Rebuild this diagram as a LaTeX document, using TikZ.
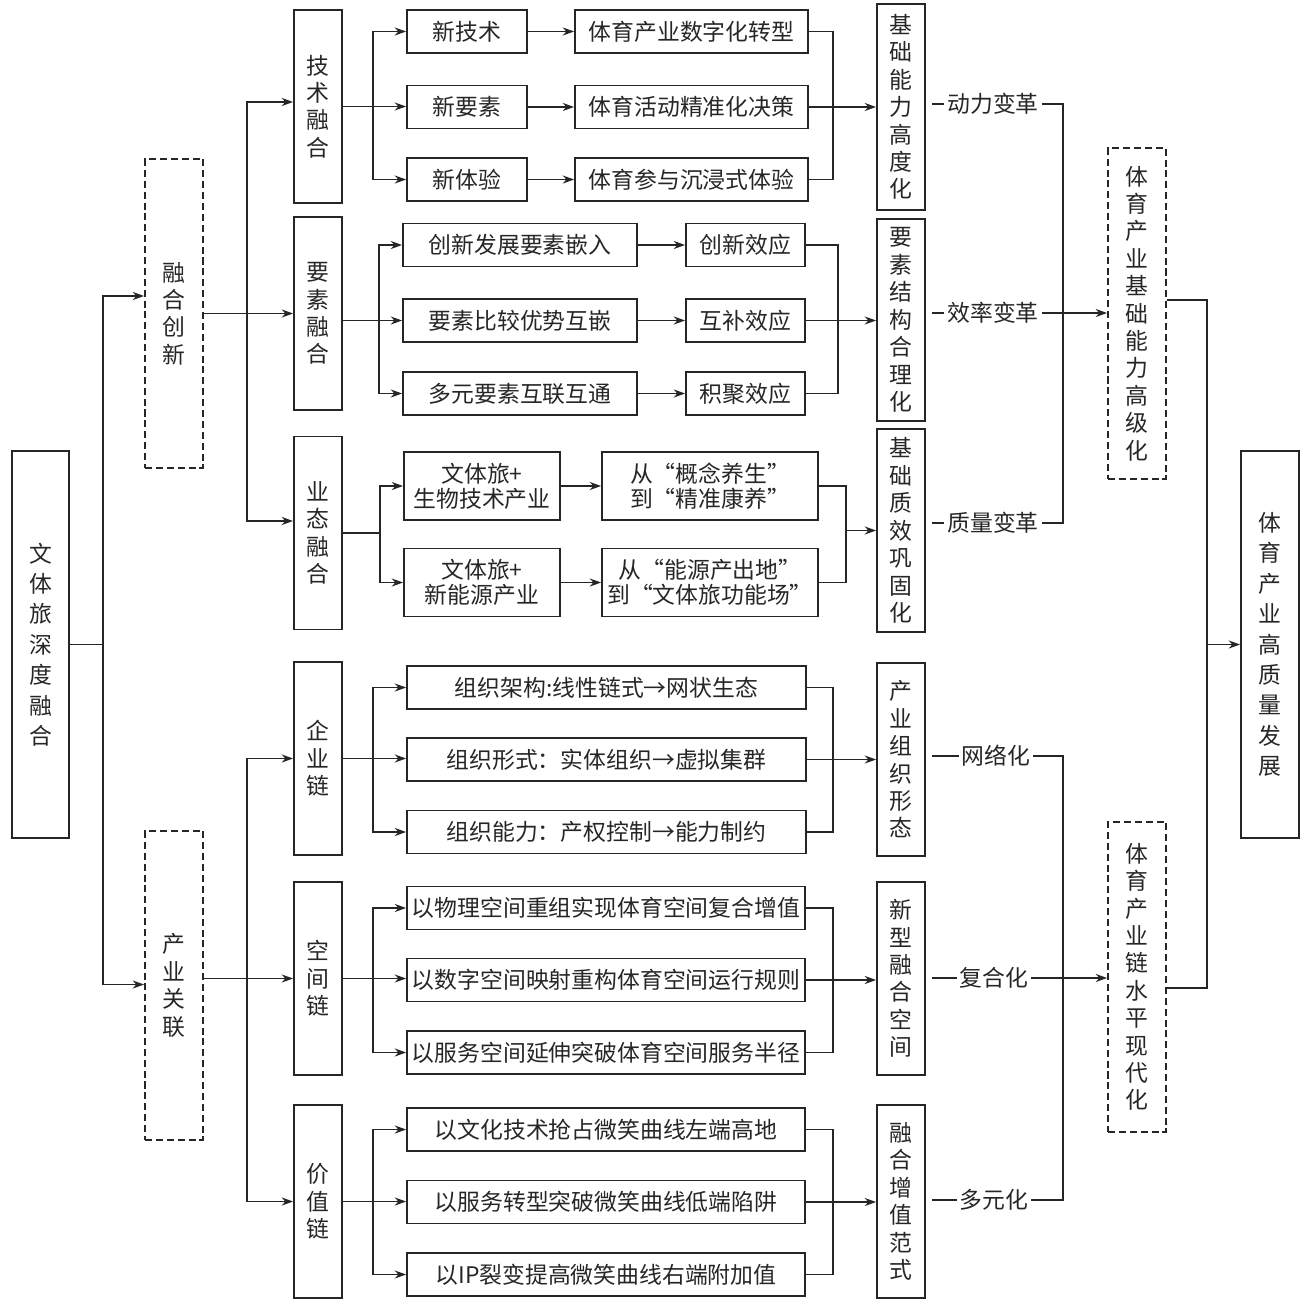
\documentclass[tikz,border=0pt]{standalone}
\usepackage{fontspec}
\setmainfont{Noto Sans CJK SC}
\usetikzlibrary{arrows.meta,positioning}
\tikzset{
  box/.style={draw=black!85,line width=1.05pt,inner sep=0pt,align=center,text=black!85},
  vbox/.style={box,minimum width=0.96cm,minimum height=3.86cm},
  dbox/.style={box,dash pattern=on 4pt off 2.2pt,minimum width=1.16cm},
  hbox/.style={box,minimum height=0.86cm},
  tbox/.style={box,minimum height=1.36cm,font=\fontsize{13pt}{14.2pt}\selectfont},
  lab/.style={inner sep=1.5pt,text=black!85},
  conn/.style={draw=black!85,line width=0.9pt}
}
\begin{document}
\begin{tikzpicture}[x=0.02cm,y=-0.02cm,>={Stealth[length=6.5pt,width=4.6pt]},
  font=\fontsize{13pt}{15.6pt}\selectfont]
\useasboundingbox (0,0) rectangle (1305,1308);
% junction columns
\foreach \n/\x in {xa/103,xb/247,xc/373,xd/379,xe/380,xf/833,xg/838,xh/846,xv/1063,xw/1207}
  \coordinate (\n) at (\x,0);

% left part
\node[box,minimum width=1.14cm,minimum height=7.74cm,font=\fontsize{13pt}{17.3pt}\selectfont] (root) at (40.5,644.5) {文\\体\\旅\\深\\度\\融\\合};
\node[dbox,minimum height=6.18cm] (rhcx) at (174,313.5) {融\\合\\创\\新};
\node[dbox,minimum height=6.18cm] (cygl) at (174,985.5) {产\\业\\关\\联};

% second column
\foreach \n/\y/\t in {jsrh/106.5/技\\术\\融\\合,ysrh/313.5/要\\素\\融\\合,ytrh/533/业\\态\\融\\合,
  qyl/758.5/企\\业\\链,kjl/978.5/空\\间\\链,jzl/1201.5/价\\值\\链}
  \node[vbox] (\n) at (318,\y) {\t};

% third and fourth columns
\foreach \n/\y/\t in {a1/31.5/新技术,a2/107/新要素,a3/179.5/新体验}
  \node[hbox,minimum width=2.4cm] (\n) at (467,\y) {\t};
\foreach \n/\y/\t in {b1/31.5/体育产业数字化转型,b2/107/体育活动精准化决策,b3/179.5/体育参与沉浸式体验}
  \node[hbox,minimum width=4.66cm] (\n) at (691.5,\y) {\t};
\foreach \n/\y/\t in {c1/245/创新发展要素嵌入,c2/320.5/要素比较优势互嵌,c3/393.5/多元要素互联互通}
  \node[hbox,minimum width=4.68cm] (\n) at (520,\y) {\t};
\foreach \n/\y/\t in {e1/245/创新效应,e2/320.5/互补效应,e3/393.5/积聚效应}
  \node[hbox,minimum width=2.38cm] (\n) at (745.5,\y) {\t};
\foreach \n/\y/\t in {f1/486/文体旅+\\生物技术产业,f2/582.5/文体旅+\\新能源产业}
  \node[tbox,minimum width=3.12cm] (\n) at (482,\y) {\t};
\foreach \n/\y/\t in {g1/486/从“概念养生”\\到“精准康养”,g2/582.5/从“能源产出地”\\到“文体旅功能场”}
  \node[tbox,minimum width=4.32cm] (\n) at (710,\y) {\t};
\foreach \n/\y/\t in {h1/687.5/组织架构:线性链式→网状生态,h2/759.5/组织形式：实体组织→虚拟集群,h3/832/组织能力：产权控制→能力制约}
  \node[hbox,minimum width=7.98cm] (\n) at (606.5,\y) {\t};
\foreach \n/\y/\t in {k1/908/以物理空间重组实现体育空间复合增值,k2/980/以数字空间映射重构体育空间运行规则,k3/1052.5/以服务空间延伸突破体育空间服务半径}
  \node[hbox,minimum width=7.96cm] (\n) at (606,\y) {\t};
\foreach \n/\y/\t in {m1/1129.5/以文化技术抢占微笑曲线左端高地,m2/1202/以服务转型突破微笑曲线低端陷阱,m3/1274.5/以IP裂变提高微笑曲线右端附加值}
  \node[hbox,minimum width=7.96cm] (\n) at (606,\y) {\t};

% fifth column
\node[vbox,minimum height=4.12cm] (p1) at (901,107) {基\\础\\能\\力\\高\\度\\化};
\node[vbox,minimum height=4.04cm] (p2) at (901,320) {要\\素\\结\\构\\合\\理\\化};
\node[vbox,minimum height=4.06cm] (p3) at (901,530.5) {基\\础\\质\\效\\巩\\固\\化};
\node[vbox] (p4) at (901,759.5) {产\\业\\组\\织\\形\\态};
\node[vbox] (p5) at (901,978.5) {新\\型\\融\\合\\空\\间};
\node[vbox] (p6) at (901,1201.5) {融\\合\\增\\值\\范\\式};

% labels
\node[lab] (l1) at (993,104) {动力变革};
\node[lab] (l2) at (993,313) {效率变革};
\node[lab] (l3) at (993,523) {质量变革};
\node[lab] (l4) at (996,756) {网络化};
\node[lab] (l5) at (994,978) {复合化};
\node[lab] (l6) at (994,1200) {多元化};

% right part
\node[dbox,minimum height=6.62cm] (r1) at (1137,313.5) {体\\育\\产\\业\\基\\础\\能\\力\\高\\级\\化};
\node[dbox,minimum height=6.2cm] (r2) at (1137,977) {体\\育\\产\\业\\链\\水\\平\\现\\代\\化};
\node[box,minimum width=1.16cm,minimum height=7.74cm,font=\fontsize{13pt}{17.3pt}\selectfont] (fin) at (1270,644.5) {体\\育\\产\\业\\高\\质\\量\\发\\展};

% root to second level
\draw[conn] (root.east) -- (root.east -| xa);
\draw[conn,->] (root.east -| xa) |- ([yshift=0.35cm]rhcx.west);
\draw[conn,->] (root.east -| xa) |- ([yshift=0.02cm]cygl.west);
\draw[conn,->] (rhcx.east) -- (rhcx.east -| ysrh.west);
\draw[conn,->] (rhcx.east -| xb) |- ([yshift=0.09cm]jsrh.west);
\draw[conn,->] (rhcx.east -| xb) |- ([yshift=0.24cm]ytrh.west);
\draw[conn,->] (kjl.west -| cygl.east) -- (kjl.west);
\draw[conn,->] (kjl.west -| xb) |- (qyl.west);
\draw[conn,->] (kjl.west -| xb) |- (jzl.west);

% technology fusion
\draw[conn,->] (jsrh.east) -- (jsrh.east -| a2.west);
\foreach \i in {1,3} \draw[conn,->] (jsrh.east -| xc) |- (a\i.west);
\foreach \i in {1,2,3} \draw[conn,->] (a\i) -- (b\i);
\draw[conn] (b1.east) -| (b3.east -| xf) -- (b3.east);
\draw[conn,->] (b2.east) -- (b2.east -| p1.west);

% factor fusion
\draw[conn,->] (c2.west -| ysrh.east) -- (c2.west);
\foreach \i in {1,3} \draw[conn,->] (c2.west -| xd) |- (c\i.west);
\foreach \i in {1,2,3} \draw[conn,->] (c\i) -- (e\i);
\draw[conn] (e1.east) -| (e3.east -| xg) -- (e3.east);
\draw[conn,->] (e2.east) -- (e2.east -| p2.west);

% format fusion
\draw[conn] (ytrh.east) -- (ytrh.east -| xe);
\foreach \i in {1,2} \draw[conn,->] (ytrh.east -| xe) |- (f\i.west);
\foreach \i in {1,2} \draw[conn,->] (f\i) -- (g\i);
\draw[conn] (g1.east) -| (g2.east -| xh) -- (g2.east);
\draw[conn,->] (p3.west -| xh) -- (p3.west);

% three chains
\foreach \s/\q/\p in {qyl/h/p4,kjl/k/p5,jzl/m/p6}{
  \draw[conn,->] (\s.east) -- (\s.east -| \q2.west);
  \foreach \i in {1,3} \draw[conn,->] (\s.east -| xc) |- (\q\i.west);
  \draw[conn] (\q1.east) -| (\q3.east -| xf) -- (\q3.east);
  \draw[conn,->] (\q2.east) -- (\q2.east -| \p.west);
}

% labels to the right
\foreach \p/\l in {p1/l1,p2/l2,p3/l3,p4/l4,p5/l5,p6/l6}
  \draw[conn] (\l.west -| \p.east) ++(6,0) -- (\l.west);
\draw[conn] (l1.east) -| (l3.east -| xv) -- (l3.east);
\draw[conn] (l4.east) -| (l6.east -| xv) -- (l6.east);
\draw[conn,->] (l2.east) -- (l2.east -| r1.west);
\draw[conn,->] (l5.east) -- (l5.east -| r2.west);
\draw[conn] ([yshift=0.27cm]r1.east) -| ([yshift=-0.22cm]r2.east -| xw) -- ([yshift=-0.22cm]r2.east);
\draw[conn,->] (fin.west -| xw) -- (fin.west);
\end{tikzpicture}
\end{document}
